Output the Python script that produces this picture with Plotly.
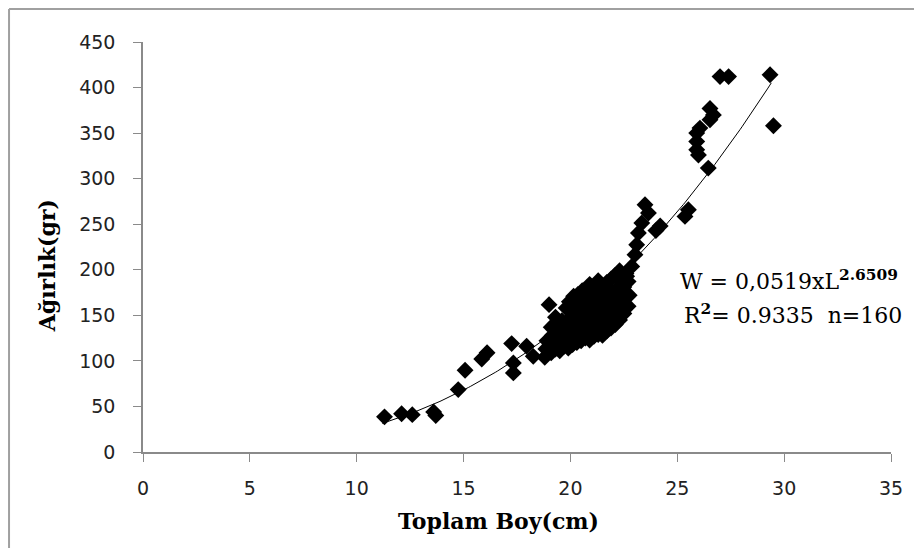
import numpy as np
import plotly.graph_objects as go

# ---- data ----
boy_cm = [
    11.3, 12.1, 12.6, 13.6, 13.7, 14.75, 15.07, 15.85, 16.1, 17.25, 17.33, 17.33, 17.95, 18.26, 19.0,
    18.8, 18.85, 18.9,
    19.1, 19.05, 19.15, 19.1,
    19.3, 19.25, 19.35, 19.3, 19.3,
    19.5, 19.55, 19.45, 19.5, 19.6,
    19.7, 19.75, 19.7, 19.65, 19.8,
    19.9, 19.95, 19.85, 19.9, 20.0, 19.9, 19.95,
    20.1, 20.15, 20.05, 20.1, 20.2, 20.1, 20.15,
    20.3, 20.35, 20.25, 20.3, 20.4, 20.3, 20.35,
    20.5, 20.55, 20.45, 20.5, 20.6, 20.5, 20.55,
    20.7, 20.75, 20.65, 20.7, 20.8, 20.7, 20.75,
    20.9, 20.95, 20.85, 20.9, 21.0, 20.9, 20.95, 20.9,
    21.1, 21.15, 21.05, 21.1, 21.2, 21.1, 21.15,
    21.3, 21.35, 21.25, 21.3, 21.4, 21.3, 21.35, 21.3,
    21.5, 21.55, 21.45, 21.5, 21.6, 21.5, 21.55,
    21.7, 21.75, 21.65, 21.7, 21.8, 21.7,
    21.9, 21.95, 21.85, 21.9, 22.0, 21.9,
    22.1, 22.15, 22.05, 22.1, 22.2, 22.1,
    22.3, 22.35, 22.25, 22.3, 22.4, 22.3,
    22.5, 22.55, 22.45, 22.5, 22.6,
    22.7, 22.75, 22.7,
    22.63, 22.87, 23.02, 23.1, 23.18, 23.34, 23.65, 23.49, 24.0, 24.2,
    25.36, 25.52, 26.45, 25.99, 25.91, 25.91, 25.91, 26.06, 26.53, 26.69, 26.53,
    27.0, 27.4, 29.34, 29.5,
]
agirlik_g = [
    38.6, 42, 41, 44, 40, 68.5, 89.7, 102, 109, 119, 97.8, 86.8, 116, 105, 161.7,
    104, 113, 122,
    109, 118, 128, 137,
    113, 122, 131, 141, 148,
    111, 119, 129, 136, 144,
    116, 125, 133, 141, 158,
    114, 122, 130, 139, 147, 157, 165,
    118, 127, 136, 144, 152, 161, 171,
    120, 129, 138, 146, 156, 165, 173,
    122, 131, 139, 149, 158, 167, 177,
    125, 134, 143, 152, 160, 169, 179,
    123, 132, 141, 150, 159, 168, 177, 184,
    127, 136, 145, 154, 163, 172, 181,
    129, 138, 147, 156, 165, 174, 183, 188,
    128, 137, 146, 155, 164, 173, 182,
    133, 143, 151, 160, 170, 186,
    136, 146, 155, 164, 175, 190,
    140, 150, 159, 168, 179, 194,
    145, 155, 164, 174, 184, 199,
    152, 162, 171, 181, 196,
    160, 172, 187,
    192.8, 203.7, 216.6, 227.5, 240.4, 251.3, 262.3, 271.4, 243, 248,
    258.6, 265.9, 311.6, 326, 331.7, 340.8, 350, 355.5, 364.6, 370, 377,
    412, 412, 414, 358,
]

fit_a = 0.0519
fit_b = 2.6509
fit_from, fit_to = 11.2, 29.4

x_ticks = [0, 5, 10, 15, 20, 25, 30, 35]
y_ticks = [0, 50, 100, 150, 200, 250, 300, 350, 400, 450]

eq_line1 = "W = 0,0519xL<sup><b>2.6509</b></sup>"
eq_line2 = "R<sup><b>2</b></sup>= 0.9335\u00a0\u00a0n=160"
x_title = "Toplam Boy(cm)"
y_title = "Ağırlık(gr)"

# ---- figure ----
fig = go.Figure()
fig.add_trace(go.Scatter(
    x=boy_cm, y=agirlik_g, mode="markers",
    marker=dict(symbol="diamond", size=13, color="black", line=dict(width=0)),
    showlegend=False, hoverinfo="x+y",
))
L = np.linspace(fit_from, fit_to, 200)
fig.add_trace(go.Scatter(
    x=L, y=fit_a * L ** fit_b, mode="lines",
    line=dict(color="black", width=1), showlegend=False, hoverinfo="skip",
))

axis_col = "#8a8a8a"
tick_font = dict(family="DejaVu Sans", size=19, color="#222222")
common = dict(showline=True, linecolor=axis_col, linewidth=1.5, ticks="outside",
              tickcolor=axis_col, ticklen=8, tickwidth=1, showgrid=False,
              zeroline=False, tickfont=tick_font, mirror=False)

# the page body adds an 8 px offset, so margins are shifted to keep the plot
# area at x 143..891 and y 42..452 in the window
fig.update_layout(
    width=922, height=548, autosize=False,
    margin=dict(l=135, r=39, t=34, b=104),
    paper_bgcolor="white", plot_bgcolor="white",
    xaxis=dict(range=[0, 35], tickvals=x_ticks, ticklabelstandoff=10, **common),
    yaxis=dict(range=[0, 450], tickvals=y_ticks, ticklabelstandoff=14, **common),
)

serif_bold = dict(family="DejaVu Serif", size=22, color="black")
fig.add_annotation(text="<b>" + x_title + "</b>", xref="paper", yref="paper",
                   x=0.4746, y=-0.168, xanchor="center", yanchor="middle",
                   showarrow=False, font=serif_bold)
fig.add_annotation(text="<b>" + y_title + "</b>", xref="paper", yref="paper",
                   x=-0.128, y=0.4537, xanchor="center", yanchor="middle",
                   textangle=-90, showarrow=False, font=serif_bold)

eq_font = dict(family="DejaVu Serif", size=22, color="black")
fig.add_annotation(text=eq_line1, xref="paper", yref="paper",
                   x=0.7152, y=0.4195, xanchor="left", yanchor="middle",
                   showarrow=False, font=eq_font)
fig.add_annotation(text=eq_line2, xref="paper", yref="paper",
                   x=0.7206, y=0.3366, xanchor="left", yanchor="middle",
                   showarrow=False, font=eq_font)

# outer chart border (left and top visible in the crop), kept inside the figure
border = dict(color="#a0a0a0", width=2)
bx = -0.1791   # ~1 px inside figure's left edge
by = 1.0805    # ~1 px inside figure's top edge
fig.add_shape(type="line", xref="paper", yref="paper",
              x0=bx, x1=bx, y0=by, y1=-0.2341, line=border)
fig.add_shape(type="line", xref="paper", yref="paper",
              x0=bx, x1=1.0414, y0=by, y1=by, line=border)

fig.write_html("out.html")
